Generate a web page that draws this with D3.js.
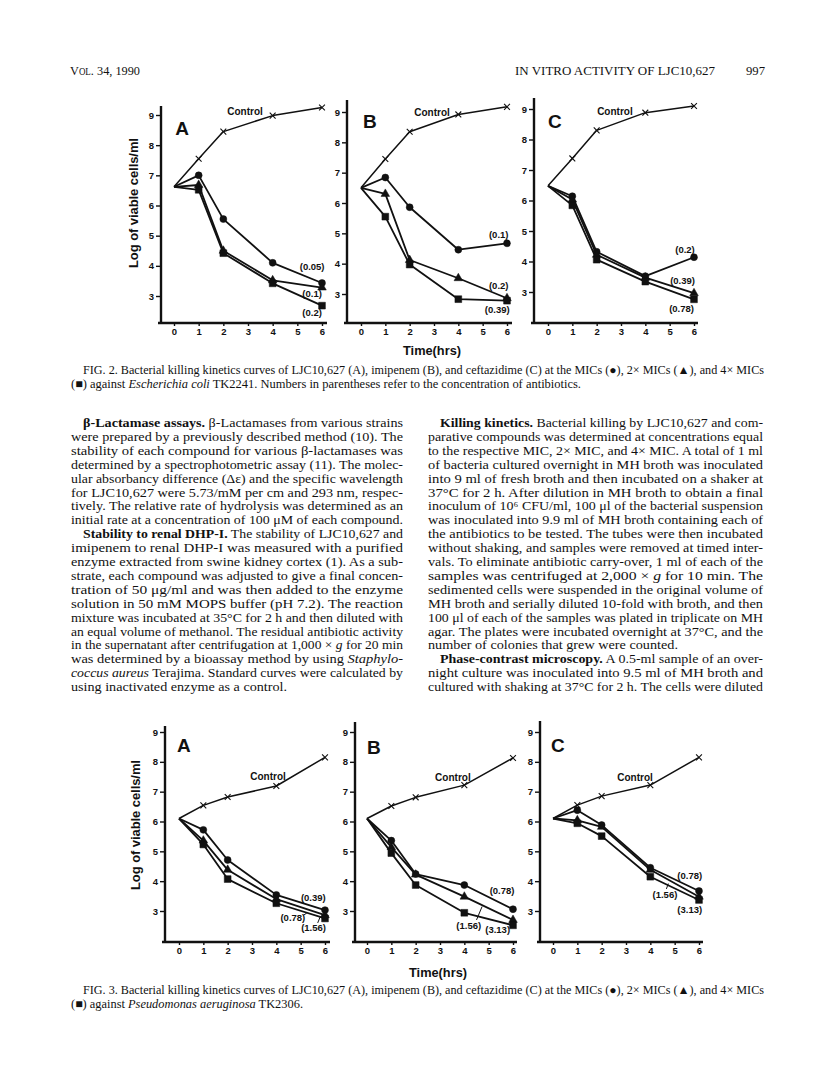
<!DOCTYPE html>
<html>
<head>
<meta charset="utf-8">
<script src="https://cdn.jsdelivr.net/npm/d3@7"></script>
<style>
  body { margin: 0; background: #fff; }
  svg { display: block; }
  .ax text { font-family: "Liberation Sans", Arial, sans-serif; font-weight: bold; font-size: 9.5px; fill: #111; }
  .ax line { stroke: #111; stroke-width: 1.4; }
  .body { font-family: "Liberation Serif", "Times New Roman", serif; font-size: 13px; fill: #111; }
  .cap { font-family: "Liberation Serif", "Times New Roman", serif; font-size: 12px; fill: #111; }
  .sans { font-family: "Liberation Sans", Arial, sans-serif; font-weight: bold; fill: #111; }
</style>
</head>
<body>
<script>
// ---- data: times and log viable counts ----
const times = [0, 1, 2, 4, 6];
const xTicks = [0, 1, 2, 3, 4, 5, 6];
const yTicks = [3, 4, 5, 6, 7, 8, 9];

// Fig 2, E. coli TK2241
const f2A_control = [6.62, 7.55, 8.45, 8.98, 9.25];
const f2A_mic     = [6.62, 7.00, 5.55, 4.10, 3.43];
const f2A_mic2    = [6.62, 6.68, 4.50, 3.52, 3.28];
const f2A_mic4    = [6.62, 6.52, 4.42, 3.42, 2.68];
const f2A_conc    = ["(0.05)", "(0.1)", "(0.2)"];

const f2B_control = [6.50, 7.45, 8.35, 8.92, 9.17];
const f2B_mic     = [6.50, 6.84, 5.86, 4.46, 4.67];
const f2B_mic2    = [6.50, 6.30, 4.12, 3.52, 2.86];
const f2B_mic4    = [6.50, 5.55, 3.97, 2.83, 2.78];
const f2B_conc    = ["(0.1)", "(0.2)", "(0.39)"];

const f2C_control = [6.48, 7.38, 8.30, 8.88, 9.10];
const f2C_mic     = [6.48, 6.14, 4.32, 3.52, 4.14];
const f2C_mic2    = [6.48, 6.03, 4.22, 3.47, 2.96];
const f2C_mic4    = [6.48, 5.84, 4.06, 3.34, 2.76];
const f2C_conc    = ["(0.2)", "(0.39)", "(0.78)"];

// Fig 3, P. aeruginosa TK2306
const f3A_control = [6.10, 6.54, 6.82, 7.19, 8.15];
const f3A_mic     = [6.10, 5.72, 4.71, 3.54, 3.03];
const f3A_mic2    = [6.10, 5.36, 4.38, 3.40, 2.86];
const f3A_mic4    = [6.10, 5.23, 4.07, 3.26, 2.75];
const f3A_conc    = ["(0.39)", "(0.78)", "(1.56)"];

const f3B_control = [6.10, 6.52, 6.81, 7.22, 8.13];
const f3B_mic     = [6.10, 5.36, 4.24, 3.87, 3.06];
const f3B_mic2    = [6.10, 5.14, 4.22, 3.48, 2.70];
const f3B_mic4    = [6.10, 4.94, 3.87, 2.94, 2.52];
const f3B_conc    = ["(0.78)", "(1.56)", "(3.13)"];

const f3C_control = [6.10, 6.55, 6.85, 7.22, 8.15];
const f3C_mic     = [6.10, 6.38, 5.88, 4.45, 3.67];
const f3C_mic2    = [6.10, 6.04, 5.82, 4.38, 3.48];
const f3C_mic4    = [6.10, 5.94, 5.51, 4.15, 3.37];
const f3C_conc    = ["(0.78)", "(1.56)", "(3.13)"];

// ---- layout (pixels) ----
const W = 816, H = 1092;
const svg = d3.select("body").append("svg").attr("width", W).attr("height", H);

// ax = y-axis x, t0/t6 = x of hours 0 and 6, y9/y3 = y of ticks 9 and 3, ay = x-axis y
const panels = [
  { letter: "A", ax: 161, t0: 174, t6: 322, y9: 115, y3: 296, ay: 323, top: 106, xEnd: 327,
    ser: [f2A_control, f2A_mic, f2A_mic2, f2A_mic4], conc: f2A_conc,
    concPos: [[5.6, 3.97], [5.6, 3.09], [5.6, 2.46]], ctrlPos: [2.88, 9.1], letPos: [0.05, 8.57], leaders: [] },
  { letter: "B", ax: 347, t0: 361, t6: 507, y9: 112, y3: 294, ay: 323, top: 100, xEnd: 512,
    ser: [f2B_control, f2B_mic, f2B_mic2, f2B_mic4], conc: f2B_conc,
    concPos: [[5.66, 4.97], [5.66, 3.27], [5.6, 2.49]], ctrlPos: [2.92, 9.0], letPos: [0.08, 8.7], leaders: [] },
  { letter: "C", ax: 534, t0: 548, t6: 694, y9: 109, y3: 292, ay: 323, top: 98, xEnd: 698,
    ser: [f2C_control, f2C_mic, f2C_mic2, f2C_mic4], conc: f2C_conc,
    concPos: [[5.63, 4.4], [5.53, 3.36], [5.49, 2.46]], ctrlPos: [2.75, 8.92], letPos: [0.0, 8.6], leaders: [] },
  { letter: "A", ax: 165, t0: 179, t6: 325, y9: 732, y3: 911, ay: 942, top: 726, xEnd: 330,
    ser: [f3A_control, f3A_mic, f3A_mic2, f3A_mic4], conc: f3A_conc,
    concPos: [[5.52, 3.46], [4.68, 2.79], [5.53, 2.43]], ctrlPos: [3.66, 7.52], letPos: [-0.08, 8.56],
    leaders: [[[5.12, 2.86], [5.25, 2.93]], [[5.7, 2.6], [5.8, 2.8]]] },
  { letter: "B", ax: 355, t0: 367, t6: 513, y9: 732, y3: 911, ay: 942, top: 722, xEnd: 517,
    ser: [f3B_control, f3B_mic, f3B_mic2, f3B_mic4], conc: f3B_conc,
    concPos: [[5.55, 3.67], [4.18, 2.52], [5.37, 2.37]], ctrlPos: [3.53, 7.49], letPos: [0.0, 8.5],
    leaders: [[[4.5, 2.7], [4.73, 3.15]]] },
  { letter: "C", ax: 540, t0: 553, t6: 699, y9: 732, y3: 911, ay: 942, top: 721, xEnd: 703,
    ser: [f3C_control, f3C_mic, f3C_mic2, f3C_mic4], conc: f3C_conc,
    concPos: [[5.62, 4.18], [4.6, 3.56], [5.62, 3.06]], ctrlPos: [3.37, 7.49], letPos: [-0.08, 8.56],
    leaders: [[[4.66, 3.74], [4.74, 3.92]]] }
];

const symbols = [d3.symbolTimes, d3.symbolCircle, d3.symbolTriangle, d3.symbolSquare];
const symSize = [24, 38, 32, 46];

panels.forEach(p => {
  const x = d3.scaleLinear().domain([0, 6]).range([p.t0, p.t6]);
  const y = d3.scaleLinear().domain([3, 9]).range([p.y3, p.y9]);
  const g = svg.append("g");

  const xAxis = d3.axisBottom(x).tickValues(xTicks).tickSize(3).tickPadding(2).tickFormat(d3.format("d"));
  const yAxis = d3.axisLeft(y).tickValues(yTicks).tickSize(5).tickPadding(2).tickFormat(d3.format("d"));

  g.append("g").attr("class", "ax").attr("transform", "translate(0," + p.ay + ")").call(xAxis)
    .call(s => s.select(".domain").remove());
  g.append("g").attr("class", "ax").attr("transform", "translate(" + p.ax + ",0)").call(yAxis)
    .call(s => s.select(".domain").remove());

  // thick axis lines
  g.append("line").attr("x1", p.ax).attr("x2", p.ax).attr("y1", p.top).attr("y2", p.ay + 1)
    .attr("stroke", "#111").attr("stroke-width", 2.4);
  g.append("line").attr("x1", p.ax - 3).attr("x2", p.xEnd).attr("y1", p.ay).attr("y2", p.ay)
    .attr("stroke", "#111").attr("stroke-width", 2.4);

  const line = d3.line().x((d, i) => x(times[i])).y(d => y(d));

  p.ser.forEach((s, k) => {
    g.append("path").attr("d", line(s)).attr("fill", "none")
      .attr("stroke", "#111").attr("stroke-width", k === 0 ? 1.5 : 1.8).attr("stroke-linejoin", "round");
  });
  p.ser.forEach((s, k) => {
    g.selectAll(null).data(s.slice(1)).enter().append("path")
      .attr("transform", (d, i) => "translate(" + x(times[i + 1]) + "," + y(d) + ")")
      .attr("d", d3.symbol().type(symbols[k]).size(symSize[k]))
      .attr("fill", k === 0 ? "none" : "#111")
      .attr("stroke", "#111").attr("stroke-width", k === 0 ? 1.1 : 0.5);
  });

  // concentration labels
  p.conc.forEach((c, i) => {
    g.append("text").attr("class", "sans").attr("font-size", 9.5)
      .attr("x", x(p.concPos[i][0])).attr("y", y(p.concPos[i][1])).attr("dy", "0.35em")
      .attr("text-anchor", "middle").text(c);
  });
  p.leaders.forEach(l => {
    g.append("line").attr("x1", x(l[0][0])).attr("y1", y(l[0][1])).attr("x2", x(l[1][0])).attr("y2", y(l[1][1]))
      .attr("stroke", "#111").attr("stroke-width", 1);
  });

  g.append("text").attr("class", "sans").attr("font-size", 10)
    .attr("x", x(p.ctrlPos[0])).attr("y", y(p.ctrlPos[1])).attr("dy", "0.35em")
    .attr("text-anchor", "middle").text("Control");
  g.append("text").attr("class", "sans").attr("font-size", 19)
    .attr("x", x(p.letPos[0])).attr("y", y(p.letPos[1])).attr("dy", "0.36em")
    .text(p.letter);
});

// axis titles
[[133, 203], [135, 825]].forEach(c => {
  svg.append("text").attr("class", "sans").attr("font-size", 13)
    .attr("transform", "translate(" + c[0] + "," + c[1] + ") rotate(-90)")
    .attr("text-anchor", "middle").attr("dy", "0.35em")
    .attr("textLength", 130).attr("lengthAdjust", "spacing")
    .text("Log of viable cells/ml");
});
[[432, 350], [438, 972]].forEach(c => {
  svg.append("text").attr("class", "sans").attr("font-size", 13)
    .attr("x", c[0] - 29).attr("y", c[1]).attr("dy", "0.35em")
    .attr("textLength", 58).attr("lengthAdjust", "spacingAndGlyphs")
    .text("Time(hrs)");
});

// ---- running head ----
const head = svg.append("text").attr("class", "body").attr("font-size", 12.5).attr("x", 70).attr("y", 75)
  .attr("textLength", 70).attr("lengthAdjust", "spacingAndGlyphs");
head.append("tspan").text("V");
head.append("tspan").attr("font-size", 9.5).text("OL");
head.append("tspan").text(". 34, 1990");
svg.append("text").attr("class", "body").attr("font-size", 12.5).attr("x", 515).attr("y", 75)
  .attr("textLength", 200).attr("lengthAdjust", "spacingAndGlyphs").text("IN VITRO ACTIVITY OF LJC10,627");
svg.append("text").attr("class", "body").attr("font-size", 12.5).attr("x", 746).attr("y", 75)
  .attr("textLength", 19).attr("lengthAdjust", "spacingAndGlyphs").text("997");

// ---- captions and text lines ----
function writeLine(x, y, w, segs, cls) {
  const t = svg.append("text").attr("class", cls).attr("x", x).attr("y", y);
  if (w) t.attr("textLength", w).attr("lengthAdjust", "spacingAndGlyphs");
  segs.forEach(s => {
    const ts = t.append("tspan").text(s[0]);
    if (s[1] === "b") ts.attr("font-weight", "bold");
    if (s[1] === "i") ts.attr("font-style", "italic");
  });
}
const capLine1 = (n) => [["FIG. " + n + ".  Bacterial killing kinetics curves of LJC10,627 (A), imipenem (B), and ceftazidime (C) at the MICs (\u25CF), 2\u00D7 MICs (\u25B2), and 4\u00D7 MICs", ""]];
writeLine(83, 374, 681, capLine1(2), "cap");
writeLine(71, 388, 510, [["(\u25A0) against ", ""], ["Escherichia coli", "i"], [" TK2241. Numbers in parentheses refer to the concentration of antibiotics.", ""]], "cap");
writeLine(83, 994, 681, capLine1(3), "cap");
writeLine(71, 1008, 232, [["(\u25A0) against ", ""], ["Pseudomonas aeruginosa", "i"], [" TK2306.", ""]], "cap");

// ---- body text, two columns ----
const leftCol = [
  [["\u03B2-Lactamase assays.", "b"], [" \u03B2-Lactamases from various strains", ""]],
  [["were prepared by a previously described method (10). The", ""]],
  [["stability of each compound for various \u03B2-lactamases was", ""]],
  [["determined by a spectrophotometric assay (11). The molec-", ""]],
  [["ular absorbancy difference (\u0394\u03B5) and the specific wavelength", ""]],
  [["for LJC10,627 were 5.73/mM per cm and 293 nm, respec-", ""]],
  [["tively. The relative rate of hydrolysis was determined as an", ""]],
  [["initial rate at a concentration of 100 \u03BCM of each compound.", ""]],
  [["Stability to renal DHP-I.", "b"], [" The stability of LJC10,627 and", ""]],
  [["imipenem to renal DHP-I was measured with a purified", ""]],
  [["enzyme extracted from swine kidney cortex (1). As a sub-", ""]],
  [["strate, each compound was adjusted to give a final concen-", ""]],
  [["tration of 50 \u03BCg/ml and was then added to the enzyme", ""]],
  [["solution in 50 mM MOPS buffer (pH 7.2). The reaction", ""]],
  [["mixture was incubated at 35\u00B0C for 2 h and then diluted with", ""]],
  [["an equal volume of methanol. The residual antibiotic activity", ""]],
  [["in the supernatant after centrifugation at 1,000 \u00D7 ", ""], ["g", "i"], [" for 20 min", ""]],
  [["was determined by a bioassay method by using ", ""], ["Staphylo-", "i"]],
  [["coccus aureus", "i"], [" Terajima. Standard curves were calculated by", ""]],
  [["using inactivated enzyme as a control.", ""]]
];
const rightCol = [
  [["Killing kinetics.", "b"], [" Bacterial killing by LJC10,627 and com-", ""]],
  [["parative compounds was determined at concentrations equal", ""]],
  [["to the respective MIC, 2\u00D7 MIC, and 4\u00D7 MIC. A total of 1 ml", ""]],
  [["of bacteria cultured overnight in MH broth was inoculated", ""]],
  [["into 9 ml of fresh broth and then incubated on a shaker at", ""]],
  [["37\u00B0C for 2 h. After dilution in MH broth to obtain a final", ""]],
  [["inoculum of 10\u2076 CFU/ml, 100 \u03BCl of the bacterial suspension", ""]],
  [["was inoculated into 9.9 ml of MH broth containing each of", ""]],
  [["the antibiotics to be tested. The tubes were then incubated", ""]],
  [["without shaking, and samples were removed at timed inter-", ""]],
  [["vals. To eliminate antibiotic carry-over, 1 ml of each of the", ""]],
  [["samples was centrifuged at 2,000 \u00D7 ", ""], ["g", "i"], [" for 10 min. The", ""]],
  [["sedimented cells were suspended in the original volume of", ""]],
  [["MH broth and serially diluted 10-fold with broth, and then", ""]],
  [["100 \u03BCl of each of the samples was plated in triplicate on MH", ""]],
  [["agar. The plates were incubated overnight at 37\u00B0C, and the", ""]],
  [["number of colonies that grew were counted.", ""]],
  [["Phase-contrast microscopy.", "b"], [" A 0.5-ml sample of an over-", ""]],
  [["night culture was inoculated into 9.5 ml of MH broth and", ""]],
  [["cultured with shaking at 37\u00B0C for 2 h. The cells were diluted", ""]]
];
// indented first lines; short last lines with their measured widths
const leftIndent = [0, 8], leftShort = { 19: 216 };
const rightIndent = [0, 17], rightShort = { 16: 250 };

function column(lines, x0, x1, indents, short) {
  lines.forEach((segs, i) => {
    const ind = indents.includes(i) ? 12 : 0;
    const w = short[i] || (x1 - x0 - ind);
    writeLine(x0 + ind, 427 + i * 13.9, w, segs, "body");
  });
}
column(leftCol, 71, 403, leftIndent, leftShort);
column(rightCol, 428, 763, rightIndent, rightShort);
</script>
</body>
</html>
